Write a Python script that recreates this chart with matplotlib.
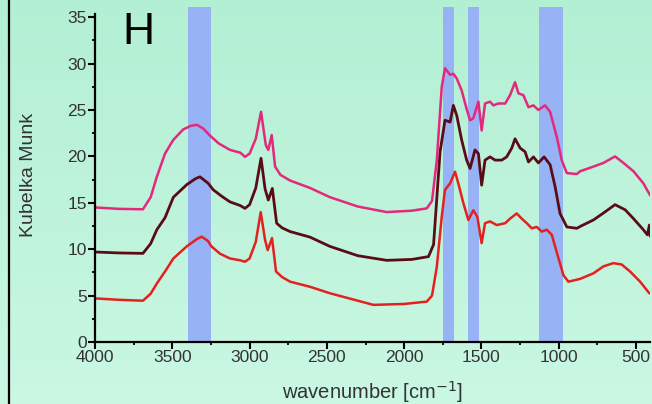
import matplotlib
matplotlib.use("Agg")
import matplotlib.pyplot as plt
import numpy as np
from matplotlib.lines import Line2D
from matplotlib.ticker import MultipleLocator

# spectra (wavenumber, Kubelka-Munk)
pink_wn = [4000, 3850, 3690, 3640, 3600, 3547, 3495, 3430, 3380, 3340, 3300, 3260, 3200, 3127,
           3060, 3030, 3000, 2960, 2926, 2895, 2879, 2857, 2835, 2800, 2738, 2609, 2480, 2300,
           2113, 1950, 1854, 1820, 1789, 1757, 1736, 1703, 1682, 1660, 1628, 1596, 1574, 1553,
           1520, 1499, 1477, 1445, 1423, 1391, 1347, 1315, 1283, 1261, 1229, 1196, 1164, 1132,
           1089, 1056, 1013, 981, 948, 883, 862, 776, 711, 636, 582, 517, 453, 409]
pink_km = [14.5, 14.35, 14.3, 15.6, 17.8, 20.3, 21.75, 22.9, 23.3, 23.4, 23.0, 22.3, 21.4, 20.7,
           20.4, 19.95, 20.3, 21.9, 24.8, 21.2, 20.7, 22.3, 18.9, 18.0, 17.4, 16.6, 15.6, 14.6,
           14.0, 14.15, 14.4, 15.2, 19.6, 27.5, 29.5, 28.8, 28.9, 28.4, 27.1, 25.1, 23.9, 24.1,
           25.9, 22.8, 25.7, 25.9, 25.5, 25.7, 25.7, 26.6, 28.0, 26.8, 26.6, 25.3, 25.5, 25.0,
           25.5, 24.8, 22.1, 19.6, 18.2, 18.1, 18.4, 18.9, 19.3, 20.0, 19.3, 18.4, 17.1, 15.8]

brown_wn = [4000, 3850, 3690, 3640, 3600, 3547, 3493, 3407, 3350, 3321, 3268, 3235, 3180, 3127,
            3060, 3030, 3000, 2960, 2926, 2900, 2879, 2853, 2825, 2790, 2738, 2609, 2480, 2300,
            2113, 1950, 1843, 1810, 1768, 1736, 1703, 1682, 1660, 1628, 1596, 1574, 1542, 1520,
            1499, 1477, 1445, 1412, 1369, 1337, 1304, 1283, 1250, 1218, 1196, 1164, 1132, 1095,
            1056, 1024, 992, 948, 883, 862, 776, 711, 636, 571, 517, 453, 427, 414, 409]
brown_km = [9.7, 9.6, 9.55, 10.6, 12.1, 13.4, 15.6, 16.95, 17.6, 17.8, 17.1, 16.4, 15.7, 15.1,
            14.7, 14.4, 14.8, 16.6, 19.8, 16.5, 15.3, 16.55, 12.8, 12.3, 11.9, 11.3, 10.3, 9.3,
            8.8, 8.9, 9.2, 10.5, 20.5, 23.9, 23.7, 25.5, 24.4, 21.75, 19.6, 18.7, 20.7, 20.3,
            16.9, 19.6, 19.95, 19.6, 19.6, 19.95, 20.9, 21.9, 20.9, 20.5, 19.4, 19.95, 19.3, 19.95,
            19.1, 16.75, 13.85, 12.4, 12.25, 12.45, 13.15, 13.9, 14.8, 14.25, 13.3, 12.1, 11.55,
            12.6, 11.4]

red_wn = [4000, 3850, 3690, 3640, 3600, 3547, 3493, 3407, 3340, 3310, 3270, 3247, 3190, 3127,
          3060, 3030, 3000, 2960, 2928, 2900, 2883, 2855, 2829, 2790, 2738, 2609, 2480, 2199,
          2000, 1854, 1820, 1789, 1757, 1736, 1703, 1671, 1650, 1617, 1585, 1553, 1527, 1499,
          1477, 1445, 1401, 1347, 1315, 1272, 1240, 1207, 1175, 1143, 1110, 1078, 1045, 1024, 970,
          938, 862, 776, 711, 647, 593, 539, 474, 414]
red_km = [4.7, 4.55, 4.45, 5.2, 6.3, 7.6, 9.0, 10.3, 11.1, 11.35, 10.9, 10.3, 9.5, 9.0,
          8.8, 8.65, 9.0, 10.8, 14.0, 11.0, 9.9, 11.2, 7.6, 7.0, 6.5, 5.95, 5.25, 4.0,
          4.1, 4.35, 5.0, 8.1, 13.5, 16.4, 17.1, 18.35, 17.1, 14.95, 13.15, 14.2, 13.5, 10.65,
          12.8, 13.0, 12.6, 12.8, 13.3, 13.85, 13.3, 12.8, 12.25, 12.4, 11.9, 12.1, 11.55, 10.3,
          7.2, 6.5, 6.8, 7.4, 8.15, 8.5, 8.35, 7.6, 6.5, 5.25]

# highlighted regions (cm-1)
bands = [(3400, 3250), (1750, 1675), (1590, 1515), (1125, 970)]

x_ticks = [4000, 3500, 3000, 2500, 2000, 1500, 1000, 500]
y_ticks = [0, 5, 10, 15, 20, 25, 30, 35]

fig = plt.figure(figsize=(6.52, 4.04), dpi=100)

# light green background, slightly darker at the top
bg = fig.add_axes([0, 0, 1, 1], zorder=-10)
grad = np.linspace(0, 1, 256).reshape(-1, 1)
top = np.array([0.70, 0.94, 0.83])
bot = np.array([0.79, 0.97, 0.89])
img = top + (bot - top) * grad[:, :, None]
bg.imshow(img, aspect="auto", extent=[0, 1, 0, 1])
bg.axis("off")

ax = fig.add_axes([95 / 652, 62 / 404, 555 / 652, 335 / 404])
ax.set_facecolor("none")

for b0, b1 in bands:
    ax.axvspan(b1, b0, color="#98b2f6", zorder=1, lw=0)

style = dict(solid_joinstyle="round", solid_capstyle="round")
ax.plot(red_wn, red_km, color="#e3211f", lw=1.8, zorder=3, **style)
ax.plot(brown_wn, brown_km, color="#5a0c16", lw=2.0, zorder=4, **style)
ax.plot(pink_wn, pink_km, color="#e4287c", lw=1.8, zorder=5, **style)

ax.set_xlim(4000, 410)
ax.set_ylim(0, 36.1)
ax.set_xticks(x_ticks)
ax.set_yticks(y_ticks)
ax.xaxis.set_minor_locator(MultipleLocator(250))
ax.yaxis.set_minor_locator(MultipleLocator(2.5))

for s in ["top", "right"]:
    ax.spines[s].set_visible(False)
for s in ["left", "bottom"]:
    ax.spines[s].set_linewidth(1.6)
    ax.spines[s].set_zorder(6)
ax.spines["left"].set_bounds(0, 35.3)

ax.tick_params(which="major", length=5, width=1.5, labelsize=12.5, labelcolor="#333333",
               direction="out", pad=1)
ax.tick_params(which="minor", length=2.5, width=1.3, direction="out")
for lab in ax.get_xticklabels() + ax.get_yticklabels():
    lab.set_family("Liberation Sans")

ax.set_xlabel("wavenumber [cm$^{-1}$]", fontsize=14.5, color="#333333",
              family="Liberation Sans", labelpad=10)
ax.set_ylabel("Kubelka Munk", fontsize=14, color="#333333",
              family=["Liberation Sans Narrow", "Liberation Sans"], labelpad=22)

ax.text(0.05, 0.985, "H", transform=ax.transAxes, fontsize=32, color="black",
        family="Liberation Sans", va="top", ha="left")

# panel border on the left
fig.add_artist(Line2D([8.5 / 652, 8.5 / 652], [0, 1], transform=fig.transFigure,
                      color="black", lw=1.6))

fig.savefig("out.png", dpi=100)
